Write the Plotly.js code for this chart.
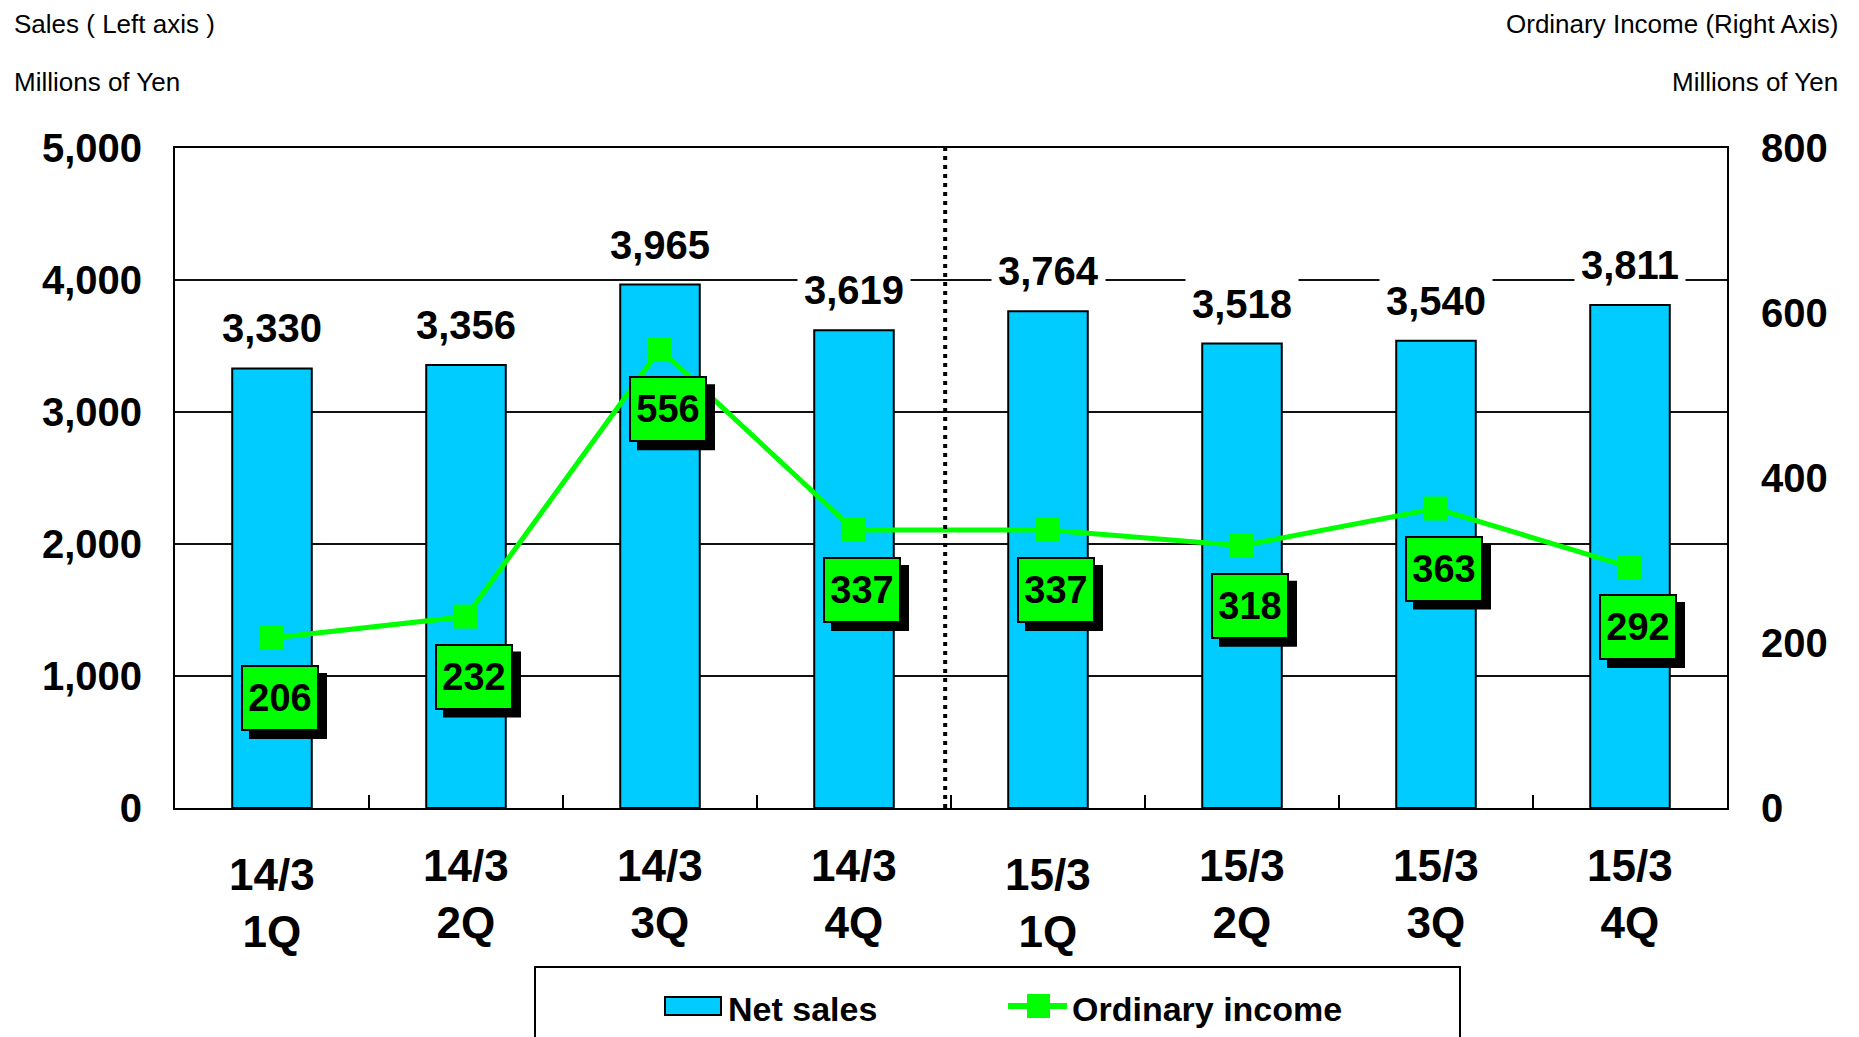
<!DOCTYPE html>
<html><head><meta charset="utf-8">
<script src="https://cdn.plot.ly/plotly-3.0.1.min.js"></script>
<style>html,body{margin:0;padding:0;background:#fff}#chart{width:1859px;height:1037px}</style>
</head><body><div id="chart"></div>
<script>
// ---- data ----
const categories = ["14/3 1Q","14/3 2Q","14/3 3Q","14/3 4Q","15/3 1Q","15/3 2Q","15/3 3Q","15/3 4Q"];
const periodLabels = ["14/3","14/3","14/3","14/3","15/3","15/3","15/3","15/3"];
const quarterLabels = ["1Q","2Q","3Q","4Q","1Q","2Q","3Q","4Q"];
const netSales = [3330,3356,3965,3619,3764,3518,3540,3811];
const ordinaryIncome = [206,232,556,337,337,318,363,292];
const leftTicks = [0,1000,2000,3000,4000,5000];
const rightTicks = [0,200,400,600,800];
const seriesNames = ["Net sales","Ordinary income"];

// ---- styling ----
const FONT = '"Liberation Sans Narrow", "Arial Narrow", "Liberation Sans", Arial, sans-serif';
const CYAN = '#00ccff';
const GREEN = '#00ff00';
const W = 1859, H = 1037;
const M = {l:175, r:132, t:148, b:229};
const PW = W - M.l - M.r, PH = H - M.t - M.b;
const px = X => (X - M.l) / PW;      // pixel -> paper x
const py = Y => (H - M.b - Y) / PH;  // pixel -> paper y
const fmt = v => v.toLocaleString('en-US');

const traces = [
  {
    type:'bar', name:seriesNames[0], x:categories, y:netSales,
    marker:{color:CYAN, line:{color:'#000', width:2}},
    hoverinfo:'x+y', showlegend:false
  },
  {
    type:'scatter', mode:'lines+markers', name:seriesNames[1], x:categories, y:ordinaryIncome,
    yaxis:'y2', line:{color:GREEN, width:5},
    marker:{symbol:'square', size:24, color:GREEN},
    showlegend:false
  }
];

const annotations = [];
const shapes = [];
// x-axis category labels (two lines)
categories.forEach((c,i)=>{
  const low = quarterLabels[i] === '1Q';
  annotations.push({
    x:c, xref:'x', y:0, yref:'paper', yanchor:'middle', yshift: low ? -95 : -86,
    text: periodLabels[i] + '<br>' + quarterLabels[i], showarrow:false,
    font:{family:FONT, size:44, weight:'bold', color:'#000'}
  });
});
// sales labels
categories.forEach((c,i)=>{
  annotations.push({
    x:c, xref:'x', y:netSales[i], yref:'y', yanchor:'middle', yshift:40,
    text: fmt(netSales[i]), showarrow:false, bgcolor:'#fff', borderpad:6,
    font:{family:FONT, size:40, weight:'bold', color:'#000'}
  });
});
// income labels: drop shadow (shape, pixel-sized around the data point) + green box (annotation)
categories.forEach((c,i)=>{
  shapes.push({type:'rect', layer:'above', xref:'x', yref:'y2',
    xsizemode:'pixel', ysizemode:'pixel', xanchor:i, yanchor:ordinaryIncome[i],
    x0:-23, x1:55, y0:-101, y1:-35, fillcolor:'#000', line:{width:0}});
  annotations.push({x:c, xref:'x', y:ordinaryIncome[i], yref:'y2', yanchor:'middle', xanchor:'center',
    xshift:8, yshift:-60, text:String(ordinaryIncome[i]), showarrow:false,
    width:68, height:56, borderpad:3, borderwidth:2, bgcolor:GREEN, bordercolor:'#000',
    font:{family:FONT, size:38, weight:'bold', color:'#000'}});
});
// header texts
const headFont = {family:FONT, size:26, color:'#000'};
annotations.push({xref:'paper', yref:'paper', x:px(12), y:py(24), xanchor:'left', yanchor:'middle', text:'Sales ( Left axis )', showarrow:false, font:headFont});
annotations.push({xref:'paper', yref:'paper', x:px(12), y:py(82), xanchor:'left', yanchor:'middle', text:'Millions of Yen', showarrow:false, font:headFont});
annotations.push({xref:'paper', yref:'paper', x:px(1840), y:py(24), xanchor:'right', yanchor:'middle', text:'Ordinary Income (Right Axis)', showarrow:false, font:headFont});
annotations.push({xref:'paper', yref:'paper', x:px(1840), y:py(82), xanchor:'right', yanchor:'middle', text:'Millions of Yen', showarrow:false, font:headFont});
// legend texts
const legFont = {family:FONT, size:34, weight:'bold', color:'#000'};
annotations.push({xref:'paper', yref:'paper', x:px(726), y:py(1009), xanchor:'left', yanchor:'middle', text:seriesNames[0], showarrow:false, font:legFont});
annotations.push({xref:'paper', yref:'paper', x:px(1070), y:py(1009), xanchor:'left', yanchor:'middle', text:seriesNames[1], showarrow:false, font:legFont});

shapes.push(
  // dotted separator between fiscal years
  {type:'line', xref:'x', yref:'paper', x0:3.47, x1:3.47, y0:0, y1:1, line:{color:'#000', width:4, dash:'4px,5px'}},
  // legend frame
  {type:'rect', xref:'paper', yref:'paper', x0:px(535), x1:px(1460), y0:py(1080), y1:py(967), line:{color:'#000', width:2}, fillcolor:'rgba(0,0,0,0)'},
  // legend: Net sales swatch
  {type:'rect', xref:'paper', yref:'paper', x0:px(665), x1:px(721), y0:py(1015), y1:py(997), line:{color:'#000', width:2}, fillcolor:CYAN},
  // legend: Ordinary income line + marker
  {type:'line', xref:'paper', yref:'paper', x0:px(1008), x1:px(1067), y0:py(1006), y1:py(1006), line:{color:GREEN, width:6}},
  {type:'rect', xref:'paper', yref:'paper', x0:px(1027), x1:px(1050), y0:py(1018), y1:py(994), line:{color:GREEN, width:0}, fillcolor:GREEN}
);

const tickFont = {family:FONT, size:40, weight:'bold', color:'#000'};
const layout = {
  width:W, height:H, margin:M, paper_bgcolor:'#fff', plot_bgcolor:'#fff',
  showlegend:false, bargap:0.59,
  xaxis:{type:'category', range:[-0.5,7.5], showline:true, mirror:true, linecolor:'#000', linewidth:2,
    ticks:'inside', tickson:'boundaries', ticklen:13, tickwidth:2, tickcolor:'#000',
    showticklabels:false, showgrid:false, zeroline:false},
  yaxis:{range:[0,5000], tickvals:leftTicks, ticktext:leftTicks.map(fmt), showgrid:true, gridcolor:'#111', gridwidth:2,
    showline:true, mirror:true, linecolor:'#000', linewidth:2, ticks:'', ticklabelstandoff:23, zeroline:false, tickfont:tickFont},
  yaxis2:{range:[0,800], overlaying:'y', side:'right', tickvals:rightTicks, ticktext:rightTicks.map(String), showgrid:false,
    ticks:'', ticklabelstandoff:33, zeroline:false, showline:false, tickfont:tickFont},
  annotations, shapes
};
Plotly.newPlot('chart', traces, layout, {displayModeBar:false, responsive:false});
</script></body></html>
